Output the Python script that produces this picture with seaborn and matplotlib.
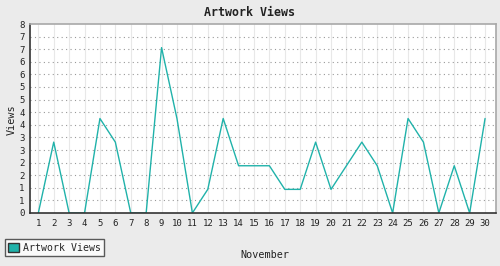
import matplotlib
matplotlib.use("Agg")
import matplotlib.pyplot as plt
from matplotlib.patches import Patch
import numpy as np
import pandas as pd
import seaborn as sns

days = list(range(1, 31))
views = [0, 3, 0, 0, 4, 3, 0, 0, 7, 4, 0, 1, 4, 2, 2, 2, 1, 1, 3, 1,
         2, 3, 2, 0, 4, 3, 0, 2, 0, 4]
series_name = "Artwork Views"
title = "Artwork Views"
xlabel = "November"
ylabel = "Views"

df = pd.DataFrame({"day": days, "views": views})

sns.set_style("white")
plt.rcParams['font.family'] = ['DejaVu Sans Mono', 'DejaVu Sans']

fig = plt.figure(figsize=(5.0, 2.66), dpi=100, facecolor="#ebebeb")
ax = fig.add_axes([30/500, 1-213/266, 466/500, 189/266])
ax.set_facecolor("white")

color = "#20b2aa"
sns.lineplot(data=df, x="day", y="views", ax=ax, color=color, linewidth=1.0,
             legend=False)

ax.set_xlim(0.46, 30.71)
ax.set_ylim(0, 8)

yt = np.linspace(0, 8, 16)
ax.set_yticks(yt)
ax.set_yticklabels([str(int(round(v + 1e-9))) for v in yt], fontsize=6.5)
ax.set_xticks(days)
ax.set_xticklabels([str(d) for d in days], fontsize=6.5)

for d in days:
    ax.axvline(d, color="#e8e8e8", lw=0.8, zorder=0)
for v in yt[1:-1]:
    ax.axhline(v, color="#999999", lw=0.8, ls=(0, (1, 3)), zorder=0)

for s in ["left", "bottom"]:
    ax.spines[s].set_color("#333333")
    ax.spines[s].set_linewidth(1.2)
for s in ["top", "right"]:
    ax.spines[s].set_color("#a8a8a8")
    ax.spines[s].set_linewidth(1.2)

ax.tick_params(axis="both", direction="out", length=3, width=0.8,
               color="#333333", labelcolor="#222222", pad=1.5)
ax.tick_params(axis="y", pad=1)

ax.set_xlabel("")
ax.set_ylabel("")
fig.text(265/500, 1-255/266, xlabel, ha="center", va="center",
         fontsize=7.3, color="#222222")
fig.text(12/500, 1-120/266, ylabel, ha="center", va="center", rotation=90,
         fontsize=7.3, color="#222222")
fig.text(249/500, 1-12/266, title, ha="center", va="center",
         fontsize=8.4, fontweight="bold", color="#222222")

handle = Patch(facecolor=color, edgecolor="#333333", linewidth=1.0)
leg = fig.legend([handle], [series_name], loc="lower left",
                 bbox_to_anchor=(5/500, 1-256/266), fontsize=7.1,
                 frameon=True, fancybox=False, handlelength=1.05,
                 handleheight=1.05, handletextpad=0.4, borderpad=0.35,
                 borderaxespad=0)
leg.get_frame().set_edgecolor("#333333")
leg.get_frame().set_linewidth(1.0)
leg.get_frame().set_facecolor("white")

fig.savefig("out.png", dpi=100, facecolor=fig.get_facecolor())
